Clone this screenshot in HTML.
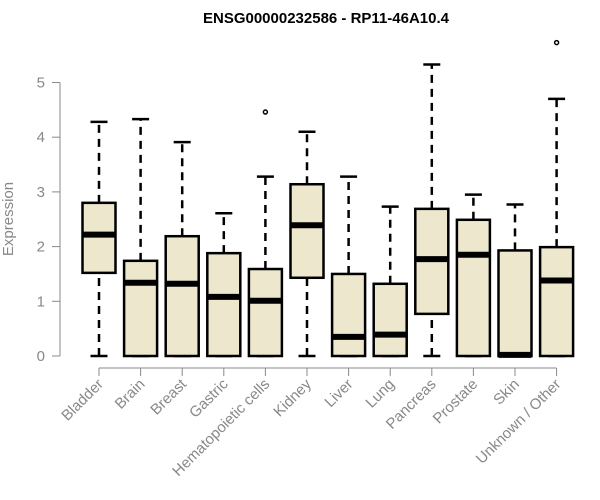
<!DOCTYPE html>
<html><head><meta charset="utf-8"><style>
html,body{margin:0;padding:0;background:#fff;}
svg{display:block;font-family:"Liberation Sans",Arial,sans-serif;}
</style></head><body>
<svg id="chart" width="600" height="500" viewBox="0 0 600 500">
<text x="326" y="23" text-anchor="middle" font-size="15" font-weight="bold" fill="#000">ENSG00000232586 - RP11-46A10.4</text>
<text transform="translate(13,219) rotate(-90)" text-anchor="middle" font-size="15" fill="#888">Expression</text>
<g id="yaxis"></g>
<g id="xaxis"></g>
<g id="boxes"></g>
</svg>
<script>
const categories = ["Bladder","Brain","Breast","Gastric","Hematopoietic cells","Kidney","Liver","Lung","Pancreas","Prostate","Skin","Unknown / Other"];
const whiskerLow = [0,0,0,0,0,0,0,0,0,0,0,0];
const q1 = [1.52,0,0,0,0,1.43,0,0,0.77,0,0,0];
const median = [2.22,1.34,1.32,1.08,1.01,2.39,0.35,0.39,1.77,1.85,0.02,1.38];
const q3 = [2.80,1.74,2.19,1.88,1.59,3.14,1.50,1.32,2.69,2.49,1.93,1.99];
const whiskerHigh = [4.28,4.33,3.91,2.61,3.28,4.10,3.28,2.73,5.33,2.95,2.77,4.70];
const outliers = [[],[],[],[],[4.46],[],[],[],[],[],[],[5.73]];
const yTicks = [0,1,2,3,4,5];

const NS = "http://www.w3.org/2000/svg";
const y = v => 356 - v * 54.7;
const x = i => 99 + i * 41.6;
function mk(tag, attrs, parent){const e=document.createElementNS(NS,tag);for(const k in attrs)e.setAttribute(k,attrs[k]);parent.appendChild(e);return e;}
const ya = document.getElementById('yaxis');
const xa = document.getElementById('xaxis');
const bx = document.getElementById('boxes');

let l = mk('line',{x1:60,x2:60,y1:y(5),y2:y(0),stroke:'#888','stroke-width':1},ya);


yTicks.forEach(t=>{
  const tk = mk('line',{x1:52,x2:60,y1:y(t),y2:y(t),stroke:'#888','stroke-width':1},ya);
  
  
  const tx = mk('text',{x:45,y:y(t)+5,'text-anchor':'end','font-size':15,fill:'#888'},ya);
  tx.textContent = t;
  
  
});
l = mk('line',{x1:x(0),x2:x(categories.length-1),y1:368,y2:368,stroke:'#888','stroke-width':1},xa);


categories.forEach((c,i)=>{
  const tk = mk('line',{x1:x(i),x2:x(i),y1:368,y2:376,stroke:'#888','stroke-width':1},xa);
  
  
  const tx = mk('text',{transform:`translate(${x(i)+5},${385}) rotate(-45)`,'text-anchor':'end','font-size':15,fill:'#888'},xa);
  tx.textContent = c;
  
  

  const g = mk('g',{},bx);
  
  
  const cx = x(i), hw = 16.5, cw = 8.5;
  mk('line',{x1:cx,x2:cx,y1:y(q3[i]),y2:y(whiskerHigh[i]),stroke:'#000','stroke-width':2.5,'stroke-dasharray':'8,6'},g);
  mk('line',{x1:cx-cw,x2:cx+cw,y1:y(whiskerHigh[i]),y2:y(whiskerHigh[i]),stroke:'#000','stroke-width':2.5},g);
  if(q1[i] > whiskerLow[i]){
    mk('line',{x1:cx,x2:cx,y1:y(whiskerLow[i]),y2:y(q1[i]),stroke:'#000','stroke-width':2.5,'stroke-dasharray':'8,6'},g);
  }
  mk('line',{x1:cx-cw,x2:cx+cw,y1:y(whiskerLow[i]),y2:y(whiskerLow[i]),stroke:'#000','stroke-width':2.5},g);
  mk('rect',{x:cx-hw,y:y(q3[i]),width:2*hw,height:y(q1[i])-y(q3[i]),fill:'#ede8cd',stroke:'#000','stroke-width':2.5},g);
  mk('line',{x1:cx-hw,x2:cx+hw,y1:y(median[i]),y2:y(median[i]),stroke:'#000','stroke-width':6},g);
  outliers[i].forEach(o=>{
    const p = mk('circle',{cx:cx,cy:y(o),r:2,fill:'none',stroke:'#000','stroke-width':1.5},g);
    
    
  });
});
</script>
</body></html>
